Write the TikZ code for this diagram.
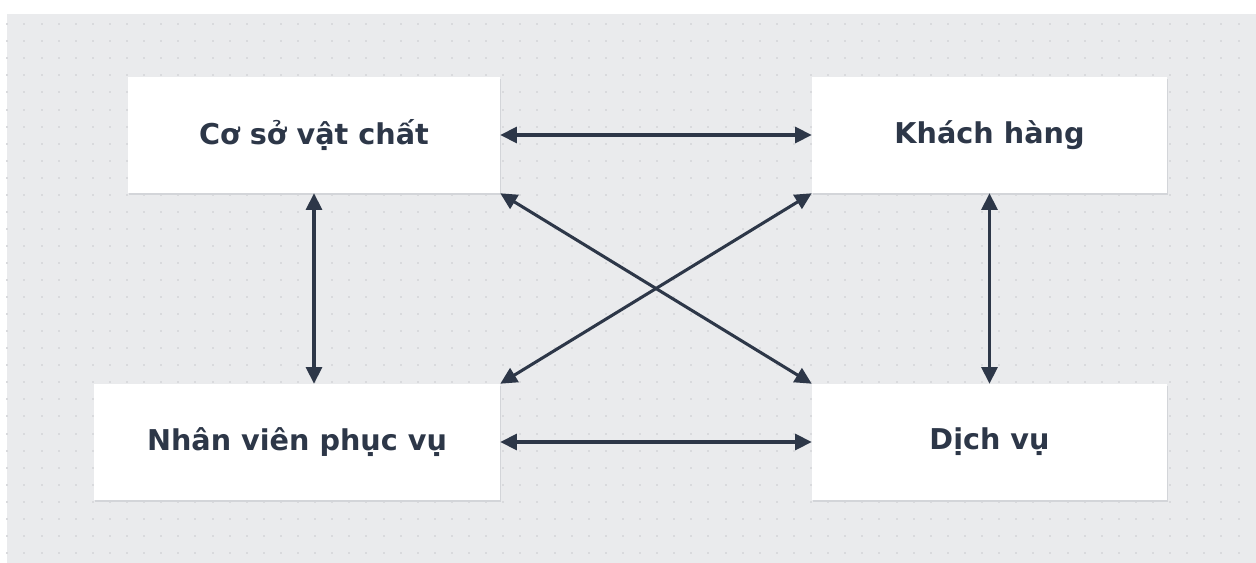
\documentclass[tikz,border=0pt]{standalone}
\usepackage{fontspec}
\setmainfont{DejaVu Sans}
\usetikzlibrary{arrows.meta}
\definecolor{bgc}{HTML}{EAEBED}
\definecolor{dotc}{HTML}{D9DADD}
\definecolor{ink}{HTML}{2D3748}
\definecolor{shad}{HTML}{D3D5D9}
\tikzset{
  box/.style={fill=white, inner sep=0pt, text=ink, font=\bfseries\fontsize{21.5}{25}\selectfont},
  tip/.tip={Triangle[length=12.5pt 0,width=12pt 0]},
  link/.style={draw=ink, line width=2.3pt, tip-tip}
}
\begin{document}
\begin{tikzpicture}[x=0.75pt,y=-0.75pt]
\useasboundingbox (0,0) rectangle (1256,563);
\fill[white] (0,0) rectangle (1256,563);
\fill[bgc] (7,14) rectangle (1256,563);
\foreach \i in {0,...,72} {
  \foreach \j in {0,...,31} {
    \fill[dotc] ({7.3+17.1*\i-1},{24.3+17.05*\j-1}) rectangle ++(2,2);
  }
}
% shadows
\fill[shad] (129,79) rectangle (501,195);
\fill[shad] (813,79) rectangle (1168,195);
\fill[shad] (95,386) rectangle (501,502);
\fill[shad] (813,386) rectangle (1168,502);
\node[box, minimum width=372*0.75pt, minimum height=116*0.75pt] (cs) at (314,135) {Cơ sở vật chất};
\node[box, minimum width=355*0.75pt, minimum height=116*0.75pt] (kh) at (989.5,135) {Khách hàng};
\node[box, minimum width=406*0.75pt, minimum height=116*0.75pt] (nv) at (297,442) {Nhân viên phục vụ};
\node[box, minimum width=355*0.75pt, minimum height=116*0.75pt] (dv) at (989.5,442) {Dịch vụ};
\draw[link] (cs.east) -- (kh.west);
\draw[link] (nv.east) -- (dv.west);
\draw[link] (cs.south) -- (cs.south |- nv.north);
\draw[link] (kh.south) -- (dv.north);
\draw[link] (cs.south east) -- (dv.north west);
\draw[link] (kh.south west) -- (nv.north east);
\end{tikzpicture}
\end{document}
